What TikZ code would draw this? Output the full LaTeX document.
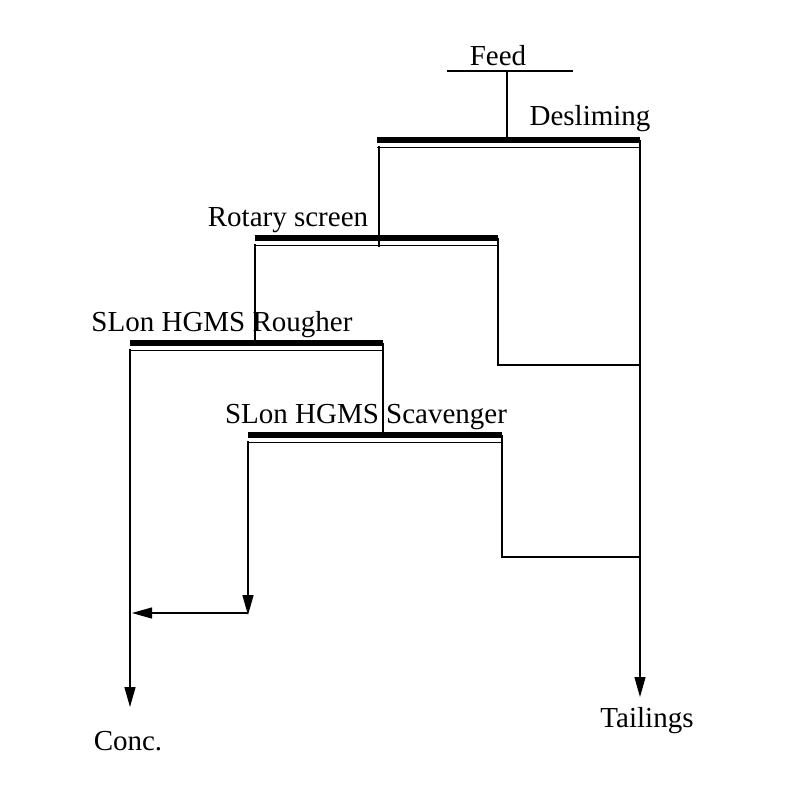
\documentclass[tikz,border=0pt]{standalone}
\usepackage{fontspec}
\setmainfont{Liberation Serif}
\usetikzlibrary{arrows.meta}
\begin{document}
\begin{tikzpicture}[x=1pt,y=-1pt,
  lab/.style={font=\fontsize{29}{32}\selectfont, inner sep=0pt},
  ln/.style={line width=1.3pt},
  arr/.style={ln,-{Triangle[length=20pt,width=11pt]}}]
\useasboundingbox (0,0) rectangle (800,800);
\newcommand{\mybar}[3]{%
  \fill (#1,#3-3) rectangle (#2,#3+3);
  \draw[line width=0.9pt] (#1,#3+7) -- (#2,#3+7);}
% bars
\mybar{377}{640}{140}
\mybar{255}{498}{238}
\mybar{130}{383}{343}
\mybar{248}{502}{435}
% labels
\node[lab] (feed) at (498,56) {Feed};
\node[lab] (desl) at (590,119) {Desliming};
\node[lab] (rot) at (288,220) {Rotary screen};
\node[lab] (rough) at (222,325) {SLon HGMS Rougher};
\node[lab] (scav) at (366,417) {SLon HGMS Scavenger};
\node[lab] (conc) at (128,741) {Conc.};
\node[lab] (tail) at (647,721) {Tailings};
% coordinates
\coordinate (fl) at (447,71); \coordinate (fr) at (573,71);
\coordinate (fm) at (507,71); \coordinate (fb) at (507,140);
\coordinate (d1) at (379,146); \coordinate (d2) at (379,247);
\coordinate (t1) at (640,140); \coordinate (t2) at (640,697);
\coordinate (r1) at (255,244); \coordinate (r2) at (255,340);
\coordinate (r3) at (498,238); \coordinate (r4) at (498,365); \coordinate (r5) at (640,365);
\coordinate (g1) at (130,349); \coordinate (g2) at (130,707);
\coordinate (g3) at (383,343); \coordinate (g4) at (383,432);
\coordinate (s1) at (248,441); \coordinate (s2) at (248,615); \coordinate (s3) at (132,613);
\coordinate (s2b) at (248,613);
\coordinate (s4) at (502,435); \coordinate (s5) at (502,557); \coordinate (s6) at (640,557);
% lines
\draw[ln] (fl) -- (fr);
\draw[ln] (fm) -- (fb);
\draw[ln] (d1) -- (d2);
\draw[arr] (t1) -- (t2);
\draw[ln] (r1) -- (r2);
\draw[ln] (r3) -- (r4) -- (r5);
\draw[arr] (g1) -- (g2);
\draw[ln] (g3) -- (g4);
\draw[arr] (s1) -- (s2);
\draw[arr] (s2b) -- (s3);
\draw[ln] (s4) -- (s5) -- (s6);
\end{tikzpicture}
\end{document}
